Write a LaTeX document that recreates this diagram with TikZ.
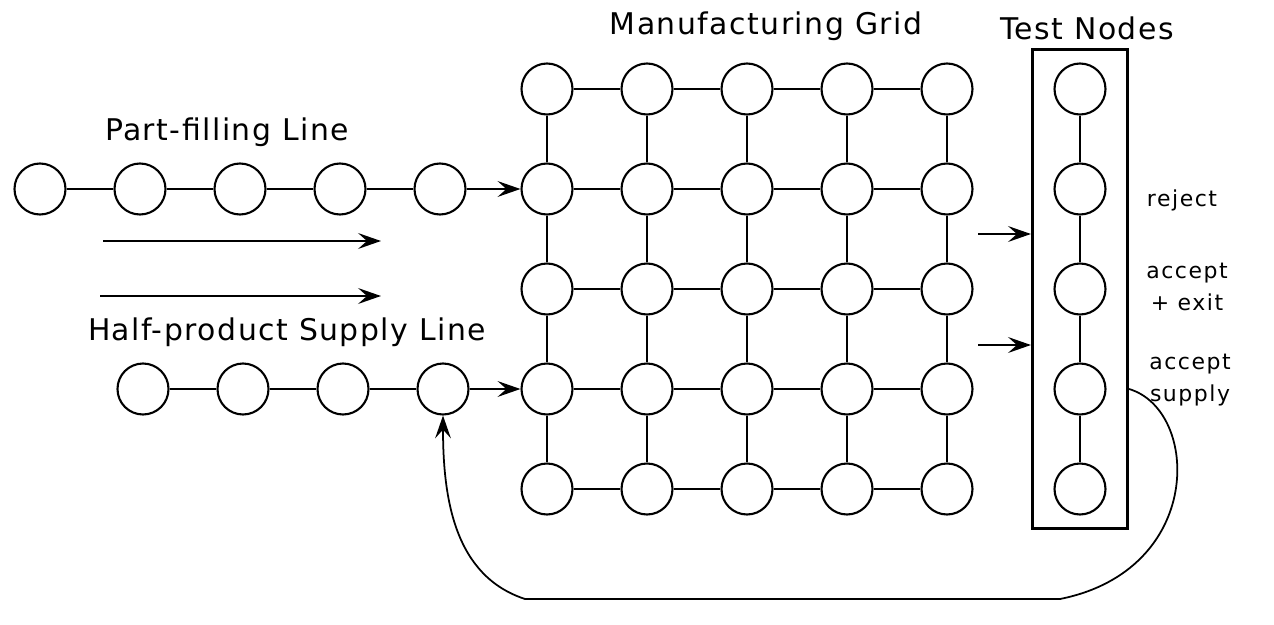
\documentclass[tikz,border=0pt]{standalone}
\usepackage{fontspec}
\setmainfont{DejaVu Sans}
\usetikzlibrary{arrows.meta,fit}

\begin{document}
\begin{tikzpicture}[x=0.02cm,y=-0.02cm]
  \tikzstyle{every node}+=[inner sep=0pt]
  \tikzset{
    station/.style={draw,circle,line width=1.2pt,minimum size=1.02cm},
    link/.style={line width=1.4pt},
    feed/.style={line width=1.4pt,-{Stealth[length=13pt,width=9pt,inset=5pt]}},
    title/.style={anchor=base,font=\fontsize{17}{20}\selectfont\addfontfeatures{LetterSpace=5}},
    note/.style={font=\fontsize{12.5}{18.5}\selectfont\addfontfeatures{LetterSpace=7},align=center}
  }
  \useasboundingbox (0,0) rectangle (1274,625);

  % manufacturing grid
  \foreach \i in {1,...,5}
    \foreach \j in {1,...,5}
      \node[station] (g-\i-\j) at ({447+100*\i},{-11+100*\j}) {};
  \foreach \i in {1,...,5}
    \foreach \j [count=\k from 2] in {1,...,4} {
      \draw[link] (g-\i-\j) -- (g-\i-\k);
      \draw[link] (g-\j-\i) -- (g-\k-\i);
    }

  % part-filling line
  \foreach \i in {1,...,5}
    \node[station] (p\i) at ({-60+100*\i},189) {};
  \foreach \i [count=\k from 2] in {1,...,4}
    \draw[link] (p\i) -- (p\k);
  \draw[feed] (p5) -- (g-1-2);

  % half-product supply line
  \foreach \i in {1,...,4}
    \node[station] (h\i) at ({43+100*\i},389) {};
  \foreach \i [count=\k from 2] in {1,...,3}
    \draw[link] (h\i) -- (h\k);
  \draw[feed] (h4) -- (g-1-4);

  % flow direction
  \coordinate (fa) at (103,241); \coordinate (fb) at (381,241);
  \coordinate (fc) at (100,296); \coordinate (fd) at (381,296);
  \draw[feed] (fa) -- (fb);
  \draw[feed] (fc) -- (fd);

  % test nodes
  \foreach \j in {1,...,5}
    \node[station] (t\j) at (1080,{-11+100*\j}) {};
  \foreach \j [count=\k from 2] in {1,...,4}
    \draw[link] (t\j) -- (t\k);
  \node[draw,line width=1.7pt,fit=(t1)(t5),inner xsep=0.42cm,inner ysep=0.25cm] (testbox) {};
  \coordinate (ta) at (978,234); \coordinate (tb) at (978,345);
  \draw[feed] (ta) -- (ta -| testbox.west);
  \draw[feed] (tb) -- (tb -| testbox.west);

  % labels
  \node[title] (gridlbl) at (766,35) {Manufacturing Grid};
  \node[title] (testlbl) at (1087,40) {Test Nodes};
  \node[title] (partlbl) at (227,140) {Part-filling Line};
  \node[title] (supplbl) at (287,340) {Half-product Supply Line};
  \node[note] (rejlbl) at (1182,200) {reject};
  \node[note] (exitlbl) at (1187,287) {accept\\+ exit};
  \node[note] (acclbl) at (1190,380) {accept\\supply};

  % rework loop
  \coordinate (loop) at (testbox.east |- t4);
  \draw[line width=1pt,-{Stealth[length=13pt,width=9pt,inset=5pt]}] (loop)
    .. controls (1200,410) and (1205,570) .. (1060,599) -- (525,599)
    .. controls (455,576) and (443,500) .. (h4.south);
\end{tikzpicture}
\end{document}
